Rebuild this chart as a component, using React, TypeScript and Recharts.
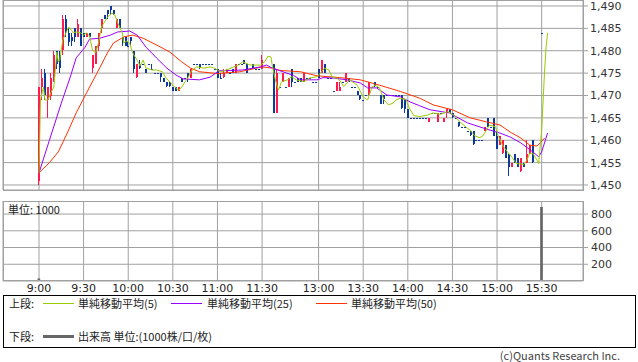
import { Bar, CartesianGrid, ComposedChart, Line, XAxis, YAxis } from "recharts";

// 1分足チャート（2分刻みで読み取り）。x は前場 9:00=0 からの分、後場は昼休みを詰めた位置
const timeTicks = [0, 30, 60, 90, 120, 150, 188, 218, 248, 278, 308, 338];
const timeLabels = ["9:00", "9:30", "10:00", "10:30", "11:00", "11:30", "13:00", "13:30", "14:00", "14:30", "15:00", "15:30"];
const priceTicks = [1450, 1455, 1460, 1465, 1470, 1475, 1480, 1485, 1490];
const volumeTicks = [200, 400, 600, 800];

// [slot, open, high, low, close]
const morningCandles: [number, number, number, number, number][] = [
  [0, 1451, 1472, 1450, 1472], [2, 1472, 1476, 1469, 1474], [4, 1475, 1476, 1469, 1470], [6, 1469, 1472, 1465, 1472],
  [8, 1470, 1475, 1469, 1474], [10, 1474, 1480, 1473, 1479], [12, 1480, 1480, 1476, 1477], [14, 1479, 1480, 1475, 1476],
  [16, 1480, 1488, 1479, 1487], [18, 1487, 1488, 1483, 1484], [20, 1484, 1485, 1481, 1482], [22, 1483, 1484, 1481, 1482],
  [24, 1485, 1485, 1482, 1483], [26, 1483, 1487, 1483, 1486], [28, 1485, 1485, 1481, 1481], [30, 1484, 1484, 1483, 1483],
  [32, 1483, 1484, 1483, 1484], [34, 1484, 1484, 1483, 1483], [36, 1476, 1479, 1475, 1479], [38, 1477, 1481, 1477, 1481],
  [40, 1481, 1484, 1480, 1484], [42, 1485, 1487, 1484, 1487], [44, 1488, 1488, 1487, 1487], [46, 1489, 1489, 1487, 1488],
  [48, 1490, 1490, 1488, 1489], [50, 1489, 1489, 1488, 1488], [52, 1485, 1487, 1485, 1487], [54, 1487, 1487, 1485, 1485],
  [56, 1483, 1483, 1481, 1482], [58, 1483, 1483, 1481, 1481], [60, 1481, 1482, 1481, 1481], [62, 1483, 1483, 1481, 1482],
  [64, 1480, 1480, 1475, 1476], [66, 1474, 1477, 1474, 1477], [68, 1477, 1478, 1476, 1476], [70, 1477, 1477, 1477, 1477],
  [72, 1476, 1476, 1475, 1475], [74, 1477, 1477, 1477, 1477], [76, 1476, 1477, 1476, 1476], [78, 1475, 1475, 1475, 1475],
  [80, 1475, 1475, 1475, 1475], [82, 1475, 1475, 1473, 1474], [84, 1474, 1474, 1473, 1473], [86, 1473, 1473, 1472, 1472],
  [88, 1473, 1473, 1472, 1472], [90, 1472, 1472, 1471, 1471], [92, 1472, 1472, 1471, 1471], [94, 1471, 1472, 1471, 1472],
  [96, 1474, 1474, 1473, 1473], [98, 1474, 1474, 1474, 1474], [100, 1475, 1475, 1473, 1474], [102, 1474, 1476, 1474, 1476],
  [104, 1477, 1477, 1477, 1477], [106, 1477, 1477, 1477, 1477], [108, 1477, 1477, 1476, 1476], [110, 1477, 1477, 1477, 1477],
  [112, 1477, 1477, 1477, 1477], [114, 1477, 1477, 1477, 1477], [116, 1477, 1477, 1477, 1477], [118, 1476, 1476, 1476, 1476],
  [120, 1476, 1476, 1474, 1474], [122, 1474, 1475, 1474, 1474], [124, 1474, 1476, 1474, 1475], [126, 1475, 1476, 1475, 1476],
  [128, 1475, 1475, 1475, 1475], [130, 1476, 1476, 1475, 1475], [132, 1475, 1477, 1475, 1477], [134, 1477, 1477, 1477, 1477],
  [136, 1477, 1477, 1477, 1477], [138, 1478, 1478, 1477, 1477], [140, 1477, 1477, 1475, 1475], [142, 1476, 1476, 1476, 1476],
  [144, 1477, 1477, 1476, 1476], [146, 1476, 1476, 1476, 1476], [148, 1476, 1476, 1476, 1476], [150, 1476, 1479, 1476, 1478],
];

const afternoonCandles: [number, number, number, number, number][] = [
  [158, 1477, 1477, 1466, 1466], [160, 1466, 1476, 1466, 1475], [162, 1472, 1472, 1472, 1472], [164, 1473, 1475, 1473, 1475],
  [166, 1472, 1472, 1472, 1472], [168, 1472, 1474, 1472, 1474], [170, 1476, 1476, 1472, 1473], [172, 1473, 1473, 1473, 1473],
  [174, 1474, 1474, 1473, 1473], [176, 1474, 1474, 1473, 1473], [178, 1473, 1475, 1473, 1475], [180, 1474, 1474, 1474, 1474],
  [182, 1474, 1474, 1474, 1474], [184, 1473, 1473, 1473, 1473], [186, 1473, 1473, 1473, 1473], [188, 1476, 1476, 1474, 1474],
  [190, 1475, 1478, 1475, 1478], [192, 1477, 1477, 1475, 1475], [194, 1474, 1474, 1474, 1474], [196, 1474, 1474, 1474, 1474],
  [198, 1471, 1471, 1471, 1471], [200, 1471, 1473, 1471, 1473], [202, 1471, 1473, 1471, 1472], [204, 1473, 1473, 1473, 1473],
  [206, 1473, 1475, 1473, 1475], [208, 1474, 1474, 1473, 1473], [210, 1472, 1472, 1472, 1472], [212, 1472, 1472, 1472, 1472],
  [214, 1471, 1471, 1470, 1470], [216, 1470, 1470, 1469, 1469], [218, 1469, 1469, 1469, 1469], [220, 1470, 1470, 1470, 1470],
  [222, 1470, 1473, 1470, 1473], [224, 1472, 1472, 1472, 1472], [226, 1473, 1473, 1472, 1472], [228, 1472, 1472, 1472, 1472],
  [230, 1470, 1470, 1468, 1468], [232, 1470, 1470, 1468, 1469], [234, 1470, 1470, 1470, 1470], [236, 1470, 1470, 1470, 1470],
  [238, 1470, 1470, 1470, 1470], [240, 1470, 1470, 1470, 1470], [242, 1470, 1470, 1470, 1470], [244, 1470, 1470, 1467, 1467],
  [246, 1469, 1469, 1466, 1467], [248, 1467, 1467, 1465, 1465], [250, 1465, 1465, 1465, 1465], [252, 1465, 1465, 1465, 1465],
  [254, 1465, 1465, 1465, 1465], [256, 1465, 1465, 1465, 1465], [258, 1465, 1465, 1465, 1465], [260, 1465, 1465, 1465, 1465],
  [262, 1464, 1465, 1464, 1465], [264, 1466, 1466, 1466, 1466], [266, 1466, 1466, 1466, 1466], [268, 1464, 1466, 1464, 1466],
  [270, 1466, 1466, 1466, 1466], [272, 1464, 1465, 1464, 1465], [274, 1466, 1467, 1465, 1467], [276, 1467, 1467, 1466, 1466],
  [278, 1466, 1466, 1465, 1465], [280, 1465, 1465, 1465, 1465], [282, 1464, 1464, 1463, 1463], [284, 1463, 1463, 1463, 1463],
  [286, 1463, 1463, 1463, 1463], [288, 1462, 1462, 1462, 1462], [290, 1462, 1462, 1461, 1461], [292, 1462, 1462, 1459, 1459],
  [294, 1460, 1460, 1460, 1460], [296, 1460, 1460, 1460, 1460], [298, 1460, 1460, 1460, 1460], [300, 1462, 1463, 1462, 1463],
  [302, 1465, 1465, 1463, 1463], [304, 1463, 1463, 1463, 1463], [306, 1465, 1465, 1461, 1461], [308, 1461, 1462, 1458, 1458],
  [310, 1459, 1461, 1459, 1461], [312, 1457, 1460, 1457, 1460], [314, 1459, 1459, 1456, 1456], [316, 1457, 1457, 1452, 1454],
  [318, 1454, 1455, 1454, 1455], [320, 1457, 1457, 1455, 1455], [322, 1456, 1456, 1454, 1454], [324, 1453, 1456, 1453, 1456],
  [326, 1455, 1455, 1454, 1454], [328, 1455, 1460, 1455, 1457], [330, 1457, 1459, 1457, 1459], [332, 1460, 1460, 1455, 1455],
  [338, 1484, 1484, 1484, 1484],
];

// 出来高（単位1000）
const volumes: [number, number][] = [
  [0, 30], [2, 8], [4, 6], [16, 5], [36, 5], [158, 9], [160, 6], [316, 5], [338, 885],
];

// 移動平均 [slot, value]
const ma5: [number, number][] = [
  [0, 1452.7], [1, 1469], [3, 1471.9], [4, 1469], [6, 1469], [8, 1470.6], [10, 1471.9], [12, 1479.7], [13, 1477.5], [14, 1478],
  [16, 1482.4], [19, 1484.6], [20, 1485.3], [22, 1484.5], [23, 1484], [25, 1484.2], [28, 1484], [30, 1483.5], [32, 1484], [34, 1483.3],
  [36, 1480.2], [38, 1479.5], [40, 1481.7], [42, 1485.3], [46, 1487.5], [49, 1488.4], [51, 1488], [53, 1486.2], [56, 1484], [57, 1481.7],
  [59, 1482.2], [61, 1481.7], [63, 1479.5], [66, 1477.9], [68, 1476.6], [70, 1477.9], [72, 1476.1], [76, 1475.7], [79, 1475.7], [83, 1475.3],
  [85, 1474.1], [88, 1473], [92, 1471.7], [94, 1471.2], [96, 1471.9], [98, 1473], [100, 1473.9], [103, 1475.7], [106, 1476.4], [111, 1476.1],
  [115, 1476.4], [118, 1476.1], [122, 1475.3], [126, 1475.7], [131, 1476.4], [134, 1476.8], [137, 1477.5], [142, 1476.8], [145, 1476.8], [149, 1476.8],
  [152, 1477.6], [154, 1478.8], [156, 1478.6], [157, 1476.4], [159, 1473.5], [160, 1472.3], [161, 1471.2], [163, 1473], [167, 1473.5], [170, 1474.2],
  [173, 1473.5], [178, 1473.1], [182, 1473.9], [187, 1474.2], [190, 1475.3], [192, 1476.1], [195, 1475.7], [197, 1474.2], [200, 1473.9], [202, 1473.5],
  [205, 1472], [209, 1473.5], [214, 1472.3], [218, 1469.7], [221, 1469], [224, 1471.9], [226, 1472.3], [229, 1471.7], [232, 1469], [235, 1467.9],
  [238, 1468.3], [240, 1469], [243, 1469.4], [247, 1469], [249, 1467.2], [252, 1465.5], [256, 1465.3], [261, 1465.6], [265, 1466.1], [270, 1465.8],
  [275, 1466.4], [279, 1465.6], [283, 1464.1], [288, 1462.7], [290, 1462.2], [293, 1461], [296, 1460.6], [298, 1460.8], [300, 1461.8], [303, 1463.4],
  [307, 1463], [309, 1460.8], [312, 1458.7], [315, 1457.4], [318, 1456.2], [321, 1454.8], [326, 1454.6], [328, 1455.5], [330, 1457.1], [332, 1457.1],
  [335, 1455.5], [336, 1454.8], [338, 1462.3], [339, 1469], [340, 1475.7], [341, 1480.9], [342, 1484],
];

const ma25: [number, number][] = [
  [0, 1452.7], [7, 1460], [15, 1468.3], [21, 1474.1], [25, 1478.4], [31, 1480.8], [34, 1482.6], [41, 1482.8], [48, 1483.5], [53, 1484.2],
  [61, 1484.4], [66, 1483.5], [72, 1480.8], [79, 1478.4], [86, 1476.1], [92, 1474.6], [97, 1473.7], [108, 1473.5], [115, 1474.1], [121, 1475.5],
  [137, 1475.7], [149, 1476.4], [153, 1476.8], [157, 1476.1], [164, 1475.3], [171, 1474.5], [176, 1473.5], [187, 1473.5], [191, 1474], [198, 1473.9],
  [207, 1473.5], [216, 1472.8], [221, 1471.7], [227, 1471.7], [234, 1470.1], [243, 1469.7], [250, 1468.5], [256, 1467.7], [263, 1466.8], [276, 1466.1],
  [288, 1463.9], [299, 1462.7], [310, 1461.6], [317, 1460.7], [324, 1459.4], [332, 1457.4], [336, 1456.3], [338, 1457.4], [342, 1461.6],
];

const ma50: [number, number][] = [
  [0, 1452.7], [7, 1455], [13, 1457.4], [19, 1461.6], [25, 1466.1], [32, 1470.6], [39, 1475], [46, 1479.5], [50, 1481.7], [57, 1483.1],
  [63, 1483.5], [70, 1482.8], [79, 1481.3], [88, 1479.7], [96, 1477.5], [102, 1476.1], [108, 1475.3], [120, 1474.9], [135, 1475.3], [150, 1476.4],
  [157, 1476.1], [162, 1475.6], [176, 1475.3], [187, 1474.4], [202, 1474], [216, 1473.5], [229, 1472.3], [243, 1470.9], [256, 1469.4], [265, 1467.9],
  [278, 1466.8], [290, 1465], [301, 1464.1], [310, 1463.4], [317, 1461.8], [324, 1460.5], [330, 1458.9], [335, 1458.7], [337, 1459.4], [340, 1460.5],
];

const UP = "#ff1a4b";
const DOWN = "#0d3a9a";
const GRID = "#a0a0a0";
const MA5_COLOR = "#99cc00";
const MA25_COLOR = "#9900ff";
const MA50_COLOR = "#ff3300";
const X_DOMAIN: [number, number] = [-24.2, 365.8];
const NUM_FONT = "'DejaVu Sans', 'Noto Sans CJK JP', sans-serif";
const JP_FONT = "'Noto Sans CJK JP', 'DejaVu Sans', sans-serif";

const candleData = [...morningCandles, ...afternoonCandles].map(([slot, open, high, low, close]) => ({
  slot,
  open,
  high,
  low,
  close,
  range: [low, high],
}));
const volumeData = volumes.map(([slot, vol]) => ({ slot, vol }));
const toLine = (pts: [number, number][]) => pts.map(([slot, v]) => ({ slot, v }));

const labelOf = (v: number) => timeLabels[timeTicks.indexOf(v)] ?? "";

function Candle(props: any) {
  const { x, y, width, height, payload } = props;
  if (!payload || x == null) return null;
  const { open, close, high, low } = payload;
  const color = close > open ? UP : DOWN;
  const span = high - low;
  const k = span > 0 ? height / span : 0;
  const yOf = (v: number) => y + (high - v) * k;
  const top = yOf(Math.max(open, close));
  const bottom = yOf(Math.min(open, close));
  const left = Math.round(x);
  return (
    <g shapeRendering="crispEdges">
      <rect x={left} y={y} width={1} height={Math.max(1, height)} fill={color} />
      <rect x={left} y={Math.round(top)} width={Math.max(2, width)} height={Math.max(1, Math.round(bottom - top))} fill={color} />
    </g>
  );
}

const frame = (top: number, height: number) => ({
  position: "absolute" as const,
  left: 3,
  top,
  width: 581,
  height,
  border: `1px solid ${GRID}`,
  boxSizing: "border-box" as const,
  pointerEvents: "none" as const,
});

const text = (left: number, top: number) => ({
  position: "absolute" as const,
  left,
  top,
  fontSize: 11,
  lineHeight: "14px",
  whiteSpace: "nowrap" as const,
  fontFamily: JP_FONT,
  color: "#222",
});

const swatch = (left: number, top: number, color: string, h = 1) => ({
  position: "absolute" as const,
  left,
  top,
  width: 31,
  height: h,
  background: color,
});

export default function App() {
  return (
    <div style={{ position: "absolute", left: 0, top: 0, width: 638, height: 362, background: "#fff", overflow: "hidden" }}>
      <div style={{ position: "absolute", left: 0, top: 0 }}>
        <ComposedChart width={638} height={197} data={candleData} margin={{ top: 0, right: 0, bottom: 7, left: 3 }}>
          <CartesianGrid stroke={GRID} />
          <XAxis type="number" dataKey="slot" domain={X_DOMAIN} ticks={timeTicks} hide allowDataOverflow />
          <YAxis
            orientation="right"
            width={55}
            domain={[1448.88, 1491.34]}
            ticks={priceTicks}
            interval={0}
            allowDataOverflow
            axisLine={false}
            tickSize={5}
            tickMargin={2}
            tickLine={{ stroke: GRID }}
            tick={{ fill: "#333", fontSize: 11, fontFamily: NUM_FONT }}
            tickFormatter={(v) => Number(v).toLocaleString("en-US")}
          />
          <Bar dataKey="range" barSize={2} shape={(p: any) => <Candle {...p} />} isAnimationActive={false} />
          <Line data={toLine(ma50)} dataKey="v" type="linear" stroke={MA50_COLOR} strokeWidth={1} dot={false} isAnimationActive={false} />
          <Line data={toLine(ma25)} dataKey="v" type="linear" stroke={MA25_COLOR} strokeWidth={1} dot={false} isAnimationActive={false} />
          <Line data={toLine(ma5)} dataKey="v" type="linear" stroke={MA5_COLOR} strokeWidth={1} dot={false} isAnimationActive={false} />
        </ComposedChart>
      </div>
      <div style={frame(0, 191)} />

      <div style={{ position: "absolute", left: 0, top: 201 }}>
        <ComposedChart width={638} height={100} data={volumeData} margin={{ top: 0, right: 0, bottom: 0, left: 3 }}>
          <CartesianGrid stroke={GRID} />
          <XAxis
            type="number"
            dataKey="slot"
            domain={X_DOMAIN}
            ticks={timeTicks}
            interval={0}
            allowDataOverflow
            height={20}
            axisLine={false}
            tickLine={false}
            tickSize={0}
            tickMargin={3}
            tick={{ fill: "#222", fontSize: 11, fontFamily: NUM_FONT }}
            tickFormatter={labelOf}
          />
          <YAxis
            orientation="right"
            width={55}
            domain={[0, 956]}
            ticks={volumeTicks}
            interval={0}
            allowDataOverflow
            axisLine={false}
            tickSize={5}
            tickMargin={3}
            tickLine={{ stroke: GRID }}
            tick={{ fill: "#333", fontSize: 11, fontFamily: NUM_FONT }}
          />
          <Bar dataKey="vol" barSize={3} fill="#666666" isAnimationActive={false} />
        </ComposedChart>
      </div>
      <div style={frame(201, 80)} />
      <div style={text(8, 202)}>単位: 1000</div>

      <div
        style={{
          position: "absolute",
          left: 3,
          top: 295,
          width: 633,
          height: 53,
          border: "1px solid #000",
          boxSizing: "border-box",
        }}
      />
      <div style={text(9, 296)}>上段:</div>
      <div style={swatch(43, 303, MA5_COLOR)} />
      <div style={text(78, 296)}>単純移動平均(5)</div>
      <div style={swatch(171, 303, MA25_COLOR)} />
      <div style={text(207, 296)}>単純移動平均(25)</div>
      <div style={swatch(316, 303, MA50_COLOR)} />
      <div style={text(351, 296)}>単純移動平均(50)</div>
      <div style={text(9, 329)}>下段:</div>
      <div style={swatch(43, 335, "#666666", 3)} />
      <div style={text(78, 329)}>出来高 単位:(1000株/口/枚)</div>

      <div style={{ ...text(0, 349), left: "auto", right: 18, lineHeight: "13px", color: "#444" }}>(c)Quants Research Inc.</div>
    </div>
  );
}
